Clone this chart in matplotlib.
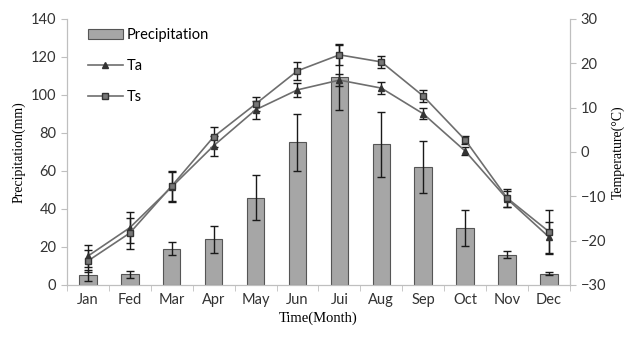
import numpy as np
import matplotlib.pyplot as plt
from matplotlib.lines import Line2D
from matplotlib.patches import Patch

months = ["Jan", "Fed", "Mar", "Apr", "May", "Jun", "Jui", "Aug", "Sep", "Oct", "Nov", "Dec"]
precip = [5, 5.5, 19, 24, 46, 75, 109.5, 74, 62, 30, 16, 6]
precip_err = [3, 2, 3.5, 7, 12, 15, 17.5, 17, 13.5, 9.5, 2, 1]
ta = [-23.5, -17.1, -7.9, 1.4, 9.5, 14.0, 16.2, 14.4, 8.6, 0.2, -10.6, -19.2]
ta_err = [2.5, 3.5, 3.3, 2.3, 2.0, 1.6, 1.3, 1.3, 1.2, 1.0, 1.8, 3.5]
ts = [-24.6, -18.3, -7.7, 3.4, 10.8, 18.3, 21.9, 20.3, 12.6, 2.7, -10.4, -18.0]
ts_err = [2.5, 3.5, 3.3, 2.2, 1.6, 2.0, 2.2, 1.3, 1.3, 1.0, 2.0, 5.0]

serif = "Liberation Serif"
sans = "Lato"
axcol = "#bfbfbf"
linecol = "#6e6e6e"

x = np.arange(len(months))

fig = plt.figure(figsize=(6.25, 3.38), dpi=100)
ax1 = fig.add_axes([0.107, 0.157, 0.805, 0.787])
ax2 = ax1.twinx()

ax1.bar(x, precip, width=0.42, color="#a6a6a6", edgecolor="#555555", linewidth=0.8, zorder=2)
ax1.errorbar(x, precip, yerr=precip_err, fmt="none", ecolor="#1a1a1a", elinewidth=1,
             capsize=3, capthick=1, zorder=3)

ax2.errorbar(x, ta, yerr=ta_err, color=linecol, ecolor="#1a1a1a", elinewidth=1,
             capsize=3, capthick=1, linewidth=1.2, marker="^", markersize=5,
             markerfacecolor="#333333", markeredgecolor="#333333")
ax2.errorbar(x, ts, yerr=ts_err, color=linecol, ecolor="#1a1a1a", elinewidth=1,
             capsize=3, capthick=1, linewidth=1.2, marker="s", markersize=5,
             markerfacecolor="#777777", markeredgecolor="#333333")

ax1.set_xlim(-0.5, 11.5)
ax1.set_ylim(0, 140)
ax1.set_yticks(range(0, 141, 20))
ax2.set_ylim(-30, 30)
ax2.set_yticks(range(-30, 31, 10))

ax1.set_xticks(x)
ax1.set_xticklabels(months, fontfamily=sans, fontsize=10.5, color="#333333")
ax1.set_xticks(np.arange(-0.5, 12, 1), minor=True)
ax1.tick_params(axis="x", which="major", length=0, pad=6)
ax1.tick_params(axis="x", which="minor", length=4, color=axcol, direction="out")

for ax in (ax1, ax2):
    ax.spines["top"].set_visible(False)
    for s in ("left", "right", "bottom"):
        ax.spines[s].set_color(axcol)
    ax.tick_params(axis="y", length=4, color=axcol, labelsize=10.5, labelcolor="#333333")
    for lab in ax.get_yticklabels():
        lab.set_fontfamily(sans)

ax1.set_xlabel("Time(Month)", fontfamily=serif, fontsize=10.5, labelpad=3)
ax1.set_ylabel("Precipitation(mm)", fontfamily=serif, fontsize=10, labelpad=4)
ax2.set_ylabel("Temperature(\u00b0C)", fontfamily=serif, fontsize=10, labelpad=4)

handles = [
    Patch(facecolor="#a6a6a6", edgecolor="#555555", linewidth=0.8),
    Line2D([], [], color=linecol, linewidth=1.2, marker="^", markersize=5,
           markerfacecolor="#333333", markeredgecolor="#333333"),
    Line2D([], [], color=linecol, linewidth=1.2, marker="s", markersize=5,
           markerfacecolor="#777777", markeredgecolor="#333333"),
]
ax1.legend(handles, ["Precipitation", "Ta", "Ts"], loc="upper left", bbox_to_anchor=(0.015, 1.015),
           frameon=False, prop={"family": sans, "size": 10.5}, handlelength=2.4,
           labelspacing=1.15, handletextpad=0.3)

fig.savefig("out.png", dpi=100)
